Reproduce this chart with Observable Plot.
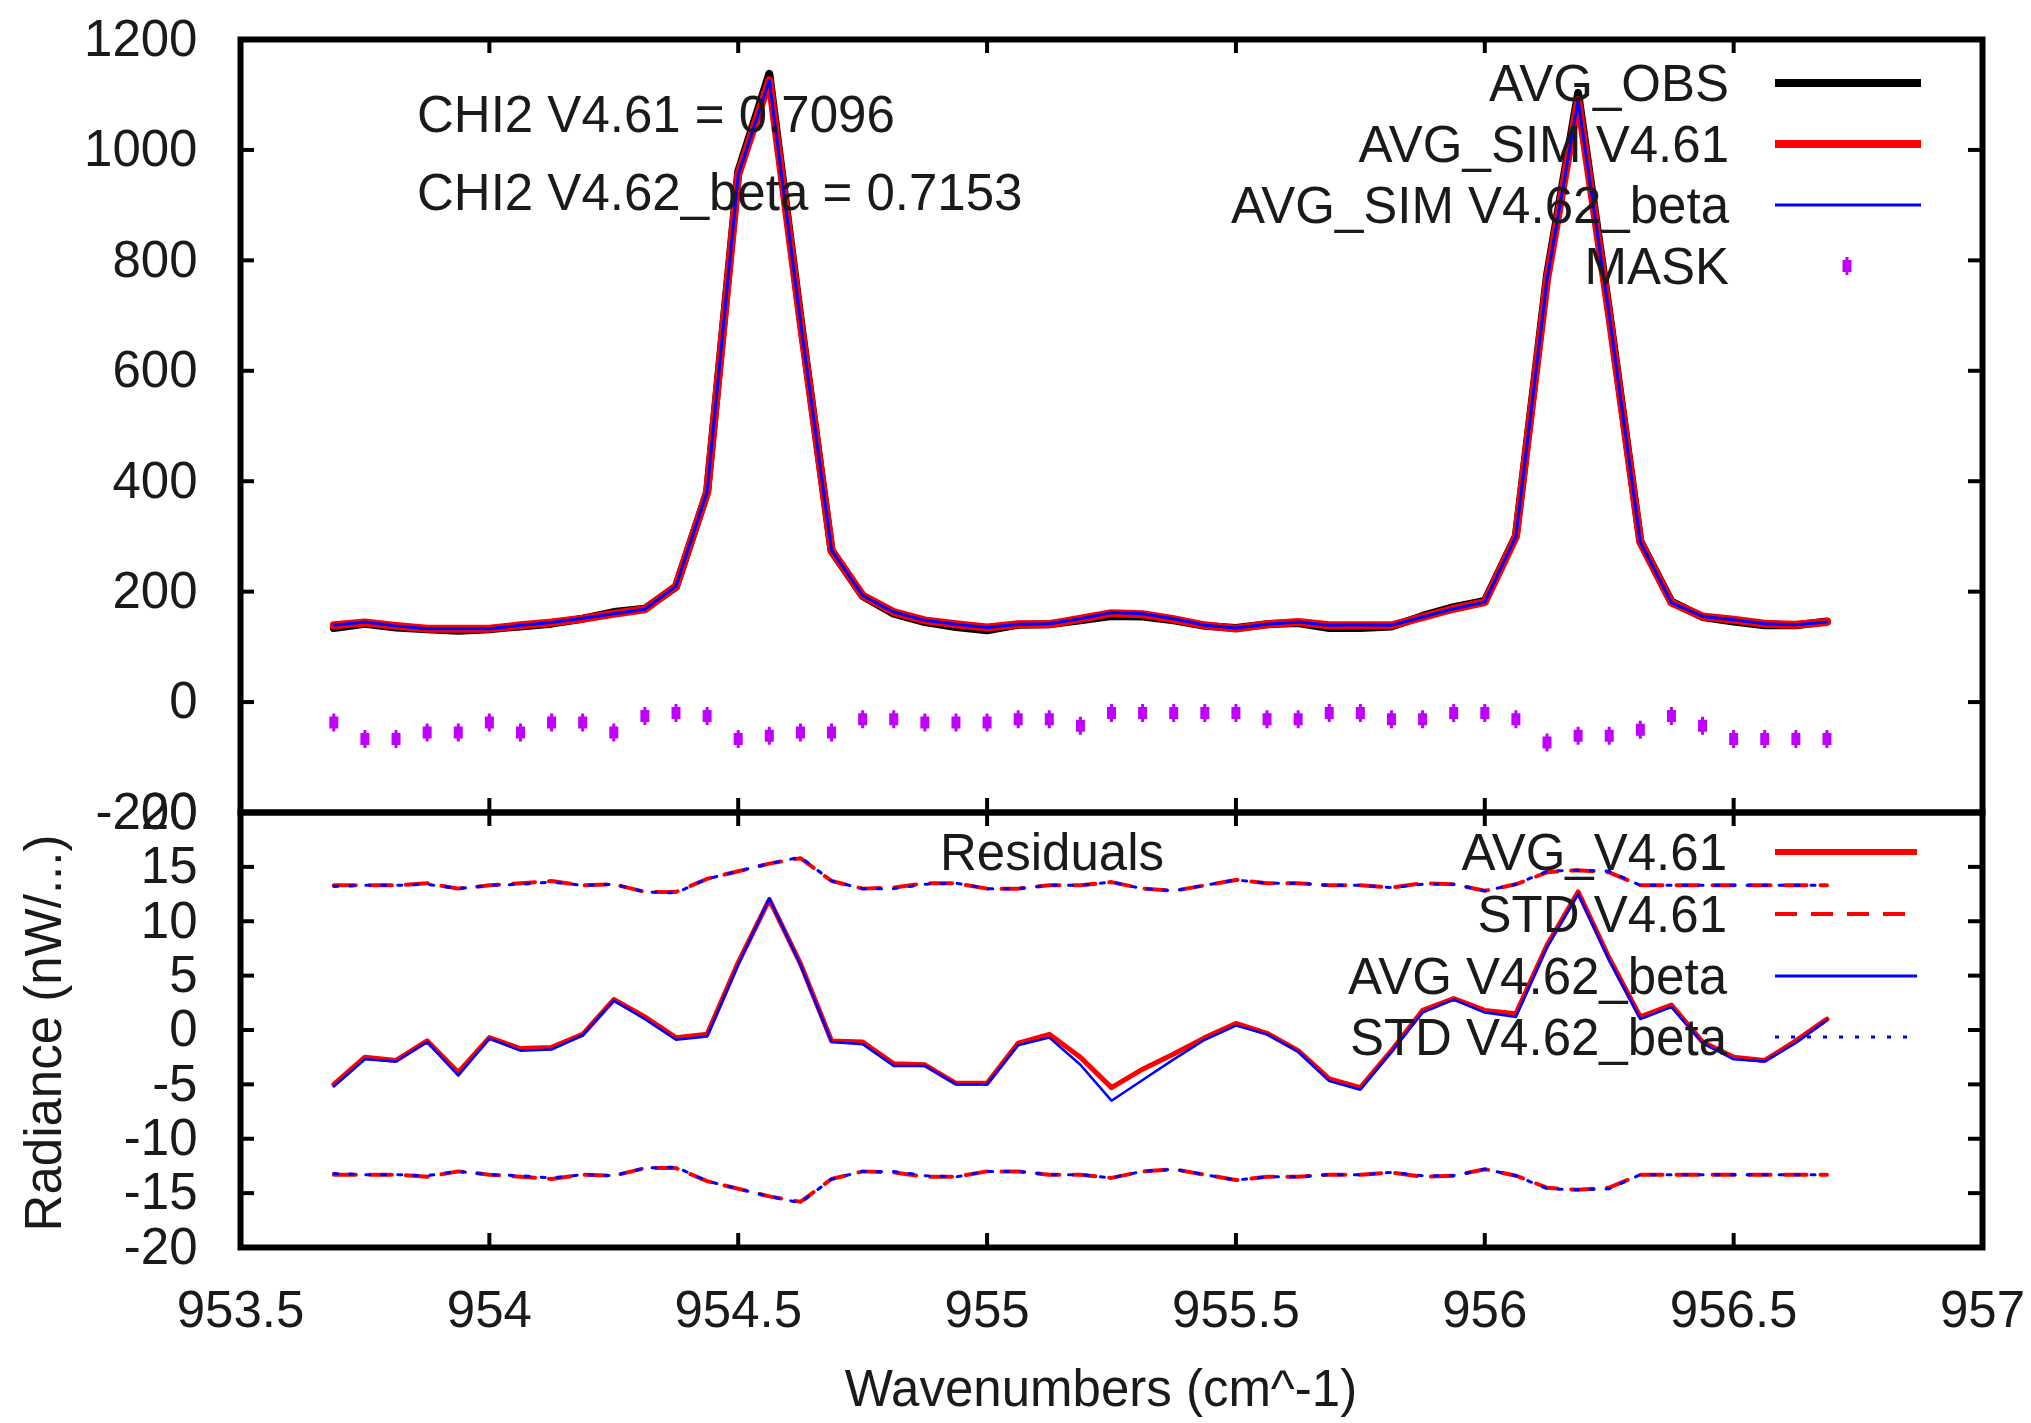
<!DOCTYPE html>
<html><head><meta charset="utf-8">
<script src="https://cdn.jsdelivr.net/npm/d3@7"></script>
<script src="https://cdn.jsdelivr.net/npm/@observablehq/plot@0.6"></script>
<style>
html,body{margin:0;padding:0;background:#fff;}
#chart{position:relative;width:2031px;height:1423px;background:#fff;overflow:hidden;}
#chart svg{position:absolute;left:0;}
</style></head><body><div id="chart"></div>
<script>
// ---------- data ----------
const wavenumbers = [953.6875, 953.75, 953.8125, 953.875, 953.9375, 954, 954.0625, 954.125, 954.1875, 954.25,
  954.3125, 954.375, 954.4375, 954.5, 954.5625, 954.625, 954.6875, 954.75, 954.8125, 954.875,
  954.9375, 955, 955.0625, 955.125, 955.1875, 955.25, 955.3125, 955.375, 955.4375, 955.5,
  955.5625, 955.625, 955.6875, 955.75, 955.8125, 955.875, 955.9375, 956, 956.0625, 956.125,
  956.1875, 956.25, 956.3125, 956.375, 956.4375, 956.5, 956.5625, 956.625, 956.6875];
const avgObs = [134, 142, 135, 132, 129, 132, 137, 142, 151, 163,
  169, 209, 380, 961, 1138, 696, 274, 192, 160, 145,
  136, 130, 140, 141, 148, 156, 155, 148, 138, 134,
  141, 143, 134, 134, 137, 156, 172, 183, 301, 773,
  1103, 707, 291, 182, 154, 146, 139, 139, 146];
const avgSim461 = [139, 144, 138, 133, 133, 133, 139, 144, 151, 160,
  168, 210, 380, 955, 1126, 690, 275, 193, 163, 148,
  141, 135, 141, 141, 151, 161, 159, 150, 139, 133,
  141, 145, 139, 139, 139, 154, 169, 181, 300, 765,
  1090, 700, 290, 180, 155, 149, 142, 140, 145];
const avgSim462 = [139, 145, 138, 133, 133, 133, 139, 144, 152, 160,
  168, 210, 381, 955, 1126, 690, 275, 193, 163, 148,
  141, 135, 141, 142, 151, 162, 160, 151, 139, 134,
  141, 145, 139, 140, 139, 154, 169, 181, 300, 765,
  1090, 701, 290, 180, 155, 149, 142, 140, 145];
const mask = [-37, -67, -67, -55, -55, -37, -55, -37, -37, -55,
  -25, -20, -25, -67, -61, -55, -55, -31, -31, -37,
  -37, -37, -31, -31, -43, -20, -20, -20, -20, -20,
  -31, -31, -20, -20, -31, -31, -20, -20, -31, -73,
  -61, -61, -50, -25, -43, -67, -67, -67, -67];
const resid461 = [-5.0, -2.5, -2.8, -1.0, -3.9, -0.7, -1.7, -1.6, -0.4, 2.8,
  1.2, -0.7, -0.4, 6.2, 12.0, 6.1, -1.0, -1.1, -3.1, -3.2,
  -4.9, -4.9, -1.2, -0.4, -2.5, -5.3, -3.6, -2.2, -0.7, 0.6,
  -0.3, -1.9, -4.5, -5.3, -1.9, 1.8, 2.9, 1.8, 1.5, 7.8,
  12.7, 6.6, 1.2, 2.3, -1.1, -2.5, -2.8, -1.0, 1.0];
const resid462 = [-5.2, -2.7, -2.9, -1.1, -4.2, -0.8, -1.9, -1.8, -0.5, 2.7,
  1.0, -0.9, -0.6, 6.0, 12.1, 6.0, -1.1, -1.3, -3.3, -3.3,
  -5.0, -5.0, -1.4, -0.7, -3.2, -6.5, -4.6, -2.7, -0.9, 0.4,
  -0.4, -2.0, -4.7, -5.5, -2.0, 1.6, 2.8, 1.6, 1.2, 7.6,
  12.5, 6.4, 1.0, 2.1, -1.2, -2.7, -2.9, -1.2, 0.9];
const std461 = [13.3, 13.3, 13.3, 13.5, 13.0, 13.3, 13.5, 13.7, 13.3, 13.4,
  12.7, 12.7, 13.9, 14.6, 15.3, 15.8, 13.7, 13.0, 13.1, 13.5,
  13.5, 13.0, 13.0, 13.3, 13.3, 13.6, 13.0, 12.8, 13.3, 13.8,
  13.5, 13.5, 13.3, 13.3, 13.1, 13.5, 13.4, 12.8, 13.4, 14.5,
  14.7, 14.5, 13.3, 13.3, 13.3, 13.3, 13.3, 13.3, 13.3];
const std462 = [13.2, 13.3, 13.3, 13.4, 13.0, 13.3, 13.4, 13.6, 13.3, 13.4,
  12.7, 12.6, 13.9, 14.6, 15.3, 15.9, 13.7, 13.0, 13.0, 13.4,
  13.5, 13.0, 13.0, 13.3, 13.3, 13.6, 13.0, 12.8, 13.3, 13.8,
  13.5, 13.5, 13.3, 13.3, 13.1, 13.4, 13.4, 12.8, 13.4, 14.6,
  14.7, 14.6, 13.3, 13.3, 13.3, 13.3, 13.3, 13.3, 13.3];

const xTicks = [953.5, 954, 954.5, 955, 955.5, 956, 956.5, 957];
const yTicksTop = [-200, 0, 200, 400, 600, 800, 1000, 1200];
const yTicksBottom = [-20, -15, -10, -5, 0, 5, 10, 15, 20];

const chi2Labels = ["CHI2 V4.61 = 0.7096", "CHI2 V4.62_beta = 0.7153"];
const topLegend = ["AVG_OBS", "AVG_SIM V4.61", "AVG_SIM V4.62_beta", "MASK"];
const bottomLegend = ["AVG_V4.61", "STD V4.61", "AVG V4.62_beta", "STD V4.62_beta"];

// ---------- build rows ----------
const rows = wavenumbers.map((x, i) => ({
  x, obs: avgObs[i], sim461: avgSim461[i], sim462: avgSim462[i], mask: mask[i],
  r461: resid461[i], r462: resid462[i], s461: std461[i], s462: std462[i]
}));

// ---------- layout / style ----------
const FONT = '"Liberation Sans", Arial, sans-serif';
const FS = 51;
const TXT = "#1a1a1a";
const RED = "#ff0000", BLUE = "#0000ff", PURPLE = "#c000ff";
const W = 2031, ML = 240, MR = 49;
const PW = W - ML - MR;
const TICK = 14;

const barSymbol = {
  draw(ctx) {
    ctx.moveTo(-4.5, -6); ctx.lineTo(4.5, -6); ctx.lineTo(4.5, 6); ctx.lineTo(-4.5, 6); ctx.closePath();
    ctx.moveTo(-1.5, -9); ctx.lineTo(1.5, -9); ctx.lineTo(1.5, 9); ctx.lineTo(-1.5, 9); ctx.closePath();
  }
};

const style = {background: "transparent", overflow: "visible", fontFamily: FONT, fontSize: FS + "px", color: TXT};

function frameTicks(H, yTicks) {
  return [
    Plot.tickX(xTicks, {x: d => d, insetTop: H - TICK, stroke: "#000", strokeWidth: 4}),
    Plot.tickX(xTicks, {x: d => d, insetBottom: H - TICK, stroke: "#000", strokeWidth: 4}),
    Plot.tickY(yTicks, {y: d => d, insetRight: PW - TICK, stroke: "#000", strokeWidth: 4}),
    Plot.tickY(yTicks, {y: d => d, insetLeft: PW - TICK, stroke: "#000", strokeWidth: 4}),
    Plot.frame({stroke: "#000", strokeWidth: 6})
  ];
}

// top panel: plot area y 39..812
const topH = 812 - 39;
const topPlot = Plot.plot({
  width: W, height: 822,
  marginTop: 39, marginBottom: 10, marginLeft: ML, marginRight: MR,
  x: {domain: [953.5, 957], axis: null},
  y: {domain: [-200, 1200]},
  style,
  marks: [
    Plot.line(rows, {x: "x", y: "obs", stroke: "#000", strokeWidth: 8}),
    Plot.line(rows, {x: "x", y: "sim461", stroke: RED, strokeWidth: 8}),
    Plot.line(rows, {x: "x", y: "sim462", stroke: BLUE, strokeWidth: 3}),
    Plot.dot(rows, {x: "x", y: "mask", symbol: barSymbol, fill: PURPLE, stroke: "none"}),
    ...frameTicks(topH, yTicksTop),
    Plot.axisY(yTicksTop, {tickSize: 0, tickPadding: 43, tickFormat: d => String(d), label: null, fill: TXT})
  ]
});
topPlot.style.top = "0px";

// bottom panel: plot area y 812..1247
const botTop = 800;
const botH = 1247 - 812;
const bottomPlot = Plot.plot({
  width: W, height: 1423 - botTop,
  marginTop: 812 - botTop, marginBottom: 1423 - 1247, marginLeft: ML, marginRight: MR,
  x: {domain: [953.5, 957]},
  y: {domain: [-20, 20]},
  style,
  marks: [
    Plot.line(rows, {x: "x", y: "s461", stroke: RED, strokeWidth: 4, strokeDasharray: "22,14"}),
    Plot.line(rows, {x: "x", y: d => -d.s461, stroke: RED, strokeWidth: 4, strokeDasharray: "22,14"}),
    Plot.line(rows, {x: "x", y: "s462", stroke: BLUE, strokeWidth: 3, strokeDasharray: "4,12"}),
    Plot.line(rows, {x: "x", y: d => -d.s462, stroke: BLUE, strokeWidth: 3, strokeDasharray: "4,12"}),
    Plot.line(rows, {x: "x", y: "r461", stroke: RED, strokeWidth: 5}),
    Plot.line(rows, {x: "x", y: "r462", stroke: BLUE, strokeWidth: 2.5}),
    ...frameTicks(botH, yTicksBottom),
    Plot.axisY(yTicksBottom, {tickSize: 0, tickPadding: 43, tickFormat: d => String(d), label: null, fill: TXT}),
    Plot.axisX(xTicks, {tickSize: 0, tickPadding: 43, tickFormat: d => String(d), label: null, fill: TXT})
  ]
});
bottomPlot.style.top = botTop + "px";

const chart = document.getElementById("chart");
chart.appendChild(topPlot);
chart.appendChild(bottomPlot);

// ---------- annotations, legends, axis titles ----------
const ov = d3.select(chart).append("svg")
  .attr("width", W).attr("height", 1423)
  .style("top", "0px").style("overflow", "visible")
  .attr("font-family", FONT).attr("font-size", FS).attr("fill", TXT);

const txt = (x, y, s, anchor) => ov.append("text").attr("x", x).attr("y", y).attr("dy", "0.35em")
  .attr("text-anchor", anchor).text(s);

chi2Labels.forEach((s, i) => txt(417, [114, 192][i], s, "start"));

// top legend
const tY = [83, 144, 205, 266];
topLegend.forEach((s, i) => txt(1729, tY[i], s, "end"));
ov.append("line").attr("x1", 1775).attr("x2", 1921).attr("y1", tY[0]).attr("y2", tY[0]).attr("stroke", "#000").attr("stroke-width", 8);
ov.append("line").attr("x1", 1775).attr("x2", 1921).attr("y1", tY[1]).attr("y2", tY[1]).attr("stroke", RED).attr("stroke-width", 8);
ov.append("line").attr("x1", 1775).attr("x2", 1921).attr("y1", tY[2]).attr("y2", tY[2]).attr("stroke", BLUE).attr("stroke-width", 3);
ov.append("path").attr("transform", `translate(1847,${tY[3]})`).attr("d", d3.symbol(barSymbol)()).attr("fill", PURPLE);

// bottom legend
txt(1052, 852, "Residuals", "middle");
const bY = [852, 914, 976, 1037];
bottomLegend.forEach((s, i) => txt(1727, bY[i], s, "end"));
ov.append("line").attr("x1", 1775).attr("x2", 1917).attr("y1", bY[0]).attr("y2", bY[0]).attr("stroke", RED).attr("stroke-width", 6);
ov.append("line").attr("x1", 1775).attr("x2", 1917).attr("y1", bY[1]).attr("y2", bY[1]).attr("stroke", RED).attr("stroke-width", 4).attr("stroke-dasharray", "22,14");
ov.append("line").attr("x1", 1775).attr("x2", 1917).attr("y1", bY[2]).attr("y2", bY[2]).attr("stroke", BLUE).attr("stroke-width", 3);
ov.append("line").attr("x1", 1775).attr("x2", 1910).attr("y1", bY[3]).attr("y2", bY[3]).attr("stroke", BLUE).attr("stroke-width", 3).attr("stroke-dasharray", "4,12");

// axis titles
txt(1101, 1388, "Wavenumbers (cm^-1)", "middle");
ov.append("text").attr("transform", "translate(43,1033) rotate(-90)").attr("dy", "0.35em")
  .attr("text-anchor", "middle").text("Radiance (nW/...)");
</script></body></html>
